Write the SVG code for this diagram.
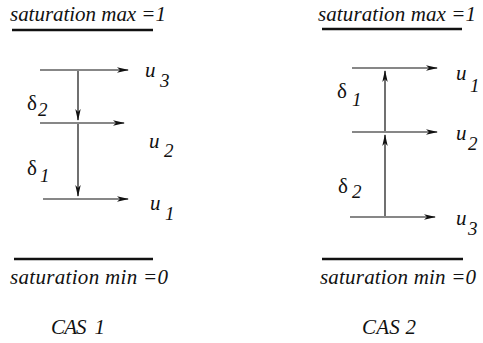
<svg xmlns="http://www.w3.org/2000/svg" width="483" height="343" viewBox="0 0 483 343">
<style>
text{font-family:"Liberation Serif","Times New Roman",serif;font-size:21px;font-style:italic;fill:#111}
.d{font-style:normal}
.s{font-size:19px}
.bar{stroke:#111;stroke-width:2.6;fill:none}
.ar{stroke:#111;stroke-width:1.2;fill:none;marker-end:url(#ah)}
</style>
<defs>
<marker id="ah" viewBox="0 0 12 6" refX="11" refY="3" markerWidth="12" markerHeight="6" markerUnits="userSpaceOnUse" orient="auto">
<path d="M0,0.3 L12,3 L0,5.7 L3,3 z" fill="#111"/>
</marker>
</defs>
<g id="cas1">
<g id="sat-max-1"><text x="10" y="21" textLength="156" lengthAdjust="spacing">saturation max =1</text><line class="bar" x1="12" y1="30" x2="153" y2="30"/></g>
<g id="u3-left"><text x="145" y="77">u</text><text class="s" x="160" y="87">3</text></g>
<g id="u2-left"><text x="149" y="148">u</text><text class="s" x="164" y="157">2</text></g>
<g id="u1-left"><text x="150" y="210">u</text><text class="s" x="165" y="220">1</text></g>
<g id="d2-left"><text class="d" x="27" y="110">δ</text><text class="s" x="38" y="116">2</text></g>
<g id="d1-left"><text class="d" x="27" y="175">δ</text><text class="s" x="40" y="182">1</text></g>
<g id="sat-min-1"><line class="bar" x1="14" y1="259" x2="153" y2="259"/><text x="10" y="284" textLength="158" lengthAdjust="spacing">saturation min =0</text></g>
<g id="cas1-label"><text x="51" y="334" xml:space="preserve" textLength="54" lengthAdjust="spacing">CAS  1</text></g>
</g>
<g id="cas2">
<g id="sat-max-2"><text x="318" y="21" textLength="158" lengthAdjust="spacing">saturation max =1</text><line class="bar" x1="322" y1="29" x2="462" y2="29"/></g>
<g id="u1-right"><text x="456" y="80">u</text><text class="s" x="470" y="92">1</text></g>
<g id="u2-right"><text x="456" y="140">u</text><text class="s" x="468" y="150">2</text></g>
<g id="u3-right"><text x="456" y="225">u</text><text class="s" x="468" y="235">3</text></g>
<g id="d1-right"><text class="d" x="337" y="98">δ</text><text class="s" x="352" y="106">1</text></g>
<g id="d2-right"><text class="d" x="338" y="193">δ</text><text class="s" x="352" y="198">2</text></g>
<g id="sat-min-2"><line class="bar" x1="322" y1="259" x2="463" y2="259"/><text x="320" y="284" textLength="156" lengthAdjust="spacing">saturation min =0</text></g>
<g id="cas2-label"><text x="362" y="334" textLength="54" lengthAdjust="spacing">CAS 2</text></g>
</g>
<g id="connectors">
<line class="ar" x1="40" y1="70" x2="128" y2="70"/>
<line class="ar" x1="40" y1="123" x2="124" y2="123"/>
<line class="ar" x1="43" y1="199" x2="128" y2="199"/>
<line class="ar" x1="78" y1="71" x2="78" y2="120"/>
<line class="ar" x1="78" y1="124" x2="78" y2="196"/>
<line class="ar" x1="352" y1="68" x2="437" y2="68"/>
<line class="ar" x1="352" y1="132" x2="437" y2="132"/>
<line class="ar" x1="350" y1="217" x2="435" y2="217"/>
<line class="ar" x1="385" y1="131" x2="385" y2="71"/>
<line class="ar" x1="385" y1="216" x2="385" y2="135"/>
</g>
</svg>
